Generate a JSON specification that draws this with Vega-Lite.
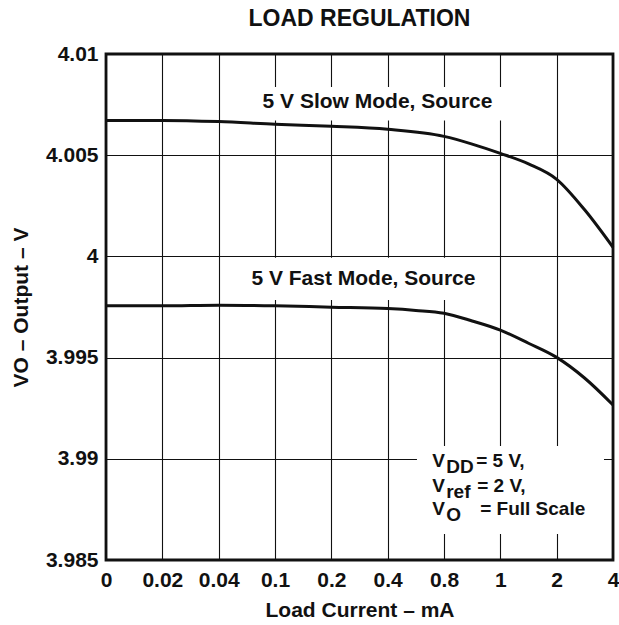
{
  "$schema": "https://vega.github.io/schema/vega-lite/v6.json",
  "autosize": {"type": "none"},
  "width": 507,
  "height": 506,
  "padding": {"left": 106, "top": 54, "right": 6, "bottom": 65},
  "background": "white",
  "title": {"text": "LOAD REGULATION", "font": "Liberation Sans", "fontSize": 23, "fontWeight": "bold", "color": "#111", "offset": 12, "anchor": "middle"},
  "config": {
    "view": {"stroke": "#111", "strokeWidth": 2.8},
    "axis": {
      "labelFont": "Liberation Sans", "labelFontWeight": "bold", "labelFontSize": 21, "labelColor": "#111",
      "titleFont": "Liberation Sans", "titleFontWeight": "bold", "titleFontSize": 21, "titleColor": "#111",
      "ticks": false, "tickSize": 0, "domain": false,
      "grid": true, "gridColor": "#111", "gridWidth": 1.1, "gridOpacity": 1
    }
  },
  "datasets": {
    "curves": [
      {"series": "slow", "idx": 0, "v": 4.00672},
      {"series": "slow", "idx": 1, "v": 4.00672},
      {"series": "slow", "idx": 2, "v": 4.00666},
      {"series": "slow", "idx": 3, "v": 4.00653},
      {"series": "slow", "idx": 4, "v": 4.00643},
      {"series": "slow", "idx": 5, "v": 4.00628},
      {"series": "slow", "idx": 6, "v": 4.00593},
      {"series": "slow", "idx": 6.5, "v": 4.00555},
      {"series": "slow", "idx": 7, "v": 4.00509},
      {"series": "slow", "idx": 7.5, "v": 4.00457},
      {"series": "slow", "idx": 8, "v": 4.00381},
      {"series": "slow", "idx": 8.5, "v": 4.00229},
      {"series": "slow", "idx": 9, "v": 4.00045},
      {"series": "fast", "idx": 0, "v": 3.99756},
      {"series": "fast", "idx": 1, "v": 3.99756},
      {"series": "fast", "idx": 2, "v": 3.99759},
      {"series": "fast", "idx": 3, "v": 3.99756},
      {"series": "fast", "idx": 4, "v": 3.99749},
      {"series": "fast", "idx": 5, "v": 3.99742},
      {"series": "fast", "idx": 5.5, "v": 3.99733},
      {"series": "fast", "idx": 6, "v": 3.99719},
      {"series": "fast", "idx": 6.5, "v": 3.99681},
      {"series": "fast", "idx": 7, "v": 3.99636},
      {"series": "fast", "idx": 7.5, "v": 3.99571},
      {"series": "fast", "idx": 8, "v": 3.99501},
      {"series": "fast", "idx": 8.5, "v": 3.99398},
      {"series": "fast", "idx": 9, "v": 3.99266}
    ],
    "boxes": [
      {"x1": 2.6, "x2": 7.1, "y1": 4.00837, "y2": 4.00672},
      {"x1": 2.55, "x2": 6.66, "y1": 3.99993, "y2": 3.99785},
      {"x1": 5.52, "x2": 8.84, "y1": 3.99063, "y2": 3.98628}
    ],
    "labels": [
      {"idx": 4.82, "v": 4.00763, "text": "5 V Slow Mode, Source"},
      {"idx": 4.57, "v": 3.99886, "text": "5 V Fast Mode, Source"}
    ],
    "notes": [
      {"line": 1, "idx": 5.79, "v": 3.98960, "main": "V", "sub": "DD", "rest": "= 5 V,"},
      {"line": 2, "idx": 5.79, "v": 3.98836, "main": "V", "sub": "ref", "rest": "= 2 V,"},
      {"line": 3, "idx": 5.79, "v": 3.98722, "main": "V", "sub": "O", "rest": "= Full Scale"}
    ]
  },
  "layer": [
    {
      "data": {"name": "boxes"},
      "mark": {"type": "rect", "fill": "white", "stroke": null},
      "encoding": {
        "x": {"field": "x1", "type": "quantitative", "scale": {"domain": [0, 9], "nice": false, "zero": false},
          "axis": {"values": [0, 1, 2, 3, 4, 5, 6, 7, 8, 9], "labelExpr": "['0','0.02','0.04','0.1','0.2','0.4','0.8','1','2','4'][datum.value]", "title": "Load Current – mA", "labelPadding": 9, "titlePadding": 9, "labelFlush": false, "labelOverlap": false}},
        "x2": {"field": "x2"},
        "y": {"field": "y1", "type": "quantitative", "scale": {"domain": [3.985, 4.01], "nice": false, "zero": false},
          "axis": {"values": [3.985, 3.99, 3.995, 4, 4.005, 4.01], "format": ".4~g", "title": "VO – Output – V", "labelPadding": 8, "titlePadding": 14, "labelFlush": false, "labelOverlap": false}},
        "y2": {"field": "y2"}
      }
    },
    {
      "data": {"name": "curves"},
      "mark": {"type": "line", "color": "#111", "strokeWidth": 3, "interpolate": "monotone"},
      "encoding": {
        "x": {"field": "idx", "type": "quantitative"},
        "y": {"field": "v", "type": "quantitative"},
        "detail": {"field": "series"}
      }
    },
    {
      "data": {"name": "labels"},
      "mark": {"type": "text", "font": "Liberation Sans", "fontWeight": "bold", "fontSize": 21, "color": "#111", "align": "center", "baseline": "middle"},
      "encoding": {
        "x": {"field": "idx", "type": "quantitative"},
        "y": {"field": "v", "type": "quantitative"},
        "text": {"field": "text"}
      }
    },
    {
      "data": {"name": "notes"},
      "mark": {"type": "text", "font": "Liberation Sans", "fontWeight": "bold", "fontSize": 19, "color": "#111", "align": "left", "baseline": "alphabetic"},
      "encoding": {
        "x": {"field": "idx", "type": "quantitative"},
        "y": {"field": "v", "type": "quantitative"},
        "text": {"field": "main"}
      }
    },
    {
      "data": {"name": "notes"},
      "mark": {"type": "text", "font": "Liberation Sans", "fontWeight": "bold", "fontSize": 19, "color": "#111", "align": "left", "baseline": "alphabetic", "dx": 14, "dy": 6},
      "encoding": {
        "x": {"field": "idx", "type": "quantitative"},
        "y": {"field": "v", "type": "quantitative"},
        "text": {"field": "sub"}
      }
    },
    {
      "data": {"name": "notes"},
      "transform": [{"filter": "datum.line == 1"}],
      "mark": {"type": "text", "font": "Liberation Sans", "fontWeight": "bold", "fontSize": 19, "color": "#111", "align": "left", "baseline": "alphabetic", "dx": 44},
      "encoding": {
        "x": {"field": "idx", "type": "quantitative"},
        "y": {"field": "v", "type": "quantitative"},
        "text": {"field": "rest"}
      }
    },
    {
      "data": {"name": "notes"},
      "transform": [{"filter": "datum.line == 2"}],
      "mark": {"type": "text", "font": "Liberation Sans", "fontWeight": "bold", "fontSize": 19, "color": "#111", "align": "left", "baseline": "alphabetic", "dx": 45},
      "encoding": {
        "x": {"field": "idx", "type": "quantitative"},
        "y": {"field": "v", "type": "quantitative"},
        "text": {"field": "rest"}
      }
    },
    {
      "data": {"name": "notes"},
      "transform": [{"filter": "datum.line == 3"}],
      "mark": {"type": "text", "font": "Liberation Sans", "fontWeight": "bold", "fontSize": 19, "color": "#111", "align": "left", "baseline": "alphabetic", "dx": 48},
      "encoding": {
        "x": {"field": "idx", "type": "quantitative"},
        "y": {"field": "v", "type": "quantitative"},
        "text": {"field": "rest"}
      }
    }
  ]
}
